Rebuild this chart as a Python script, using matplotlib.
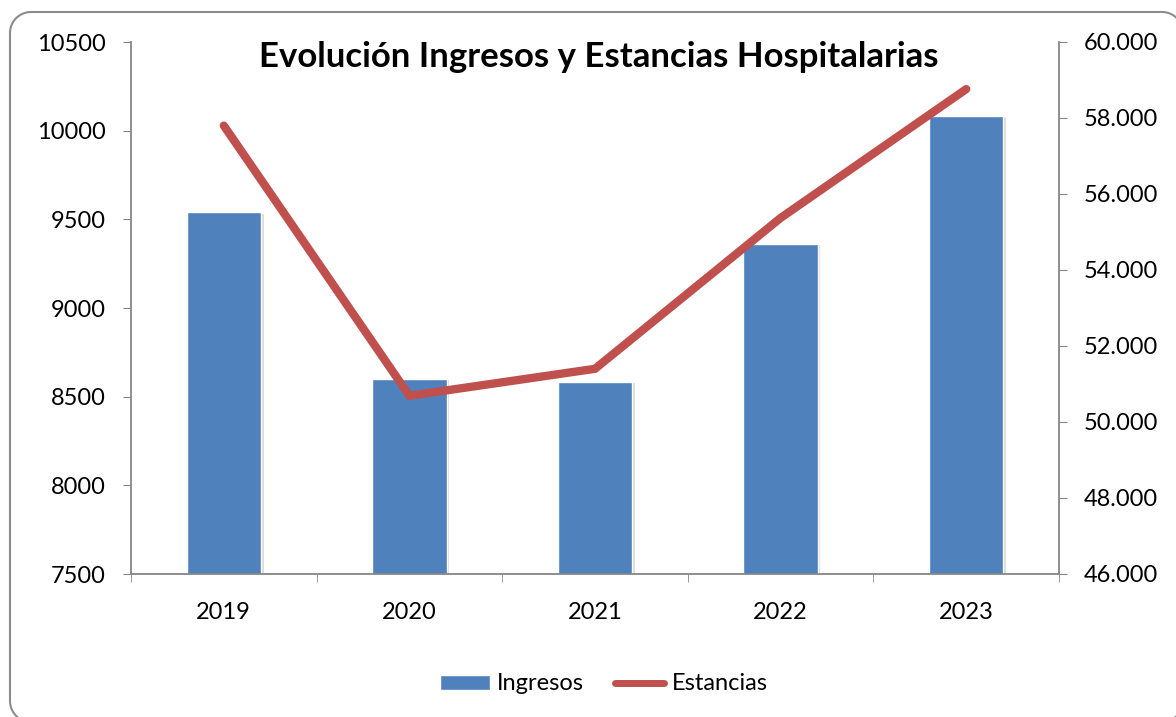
import matplotlib
matplotlib.use("Agg")
import numpy as np
import matplotlib.pyplot as plt
from matplotlib.patches import Patch, PathPatch
from matplotlib.path import Path
from matplotlib.lines import Line2D
from matplotlib.ticker import FuncFormatter, FixedLocator
import matplotlib.patheffects as pe

years = ["2019", "2020", "2021", "2022", "2023"]
ingresos = [9540, 8600, 8583, 9361, 10083]
estancias = [57800, 50690, 51400, 55370, 58760]
left_ticks = [7500, 8000, 8500, 9000, 9500, 10000, 10500]
right_ticks = [46000, 48000, 50000, 52000, 54000, 56000, 58000, 60000]

plt.rcParams['font.family'] = ['Lato', 'DejaVu Sans']

W, H = 1176, 717
fig = plt.figure(figsize=(W / 100, H / 100), dpi=100)

# rounded frame, built in pixel units (y down) then converted to figure fraction
def rounded_frame(x0, y0, x1, y1, r, n=20):
    pts = []
    corners = [((x1 - r, y0 + r), -90, 0), ((x1 - r, y1 - r), 0, 90),
               ((x0 + r, y1 - r), 90, 180), ((x0 + r, y0 + r), 180, 270)]
    for (cx, cy), a0, a1 in corners:
        for t in np.linspace(np.radians(a0), np.radians(a1), n):
            pts.append((cx + r * np.cos(t), cy + r * np.sin(t)))
    pts.append(pts[0])
    return [(px / W, 1 - py / H) for px, py in pts]

fpts = rounded_frame(10, 12, 1183, 722, 21)
frame = PathPatch(Path(fpts), transform=fig.transFigure, fill=False,
                  edgecolor="#8c8c8c", linewidth=1.5)
fig.patches.append(frame)

ax_l, ax_r, ax_t, ax_b = 131, 1059, 42, 574
ax = fig.add_axes([ax_l / W, 1 - ax_b / H, (ax_r - ax_l) / W, (ax_b - ax_t) / H])
ax2 = ax.twinx()

x = list(range(len(years)))
bars = ax.bar(x, ingresos, width=0.4, color="#4F81BD", edgecolor="white",
              linewidth=1.0, zorder=2)
for b in bars:
    b.set_path_effects([pe.SimplePatchShadow(offset=(2, -1), shadow_rgbFace="#bbbbbb", alpha=0.5),
                        pe.Normal()])

ax.set_xlim(-0.5, len(years) - 0.5)
ax.set_ylim(7500, 10500)
ax.yaxis.set_major_locator(FixedLocator(left_ticks))
ax.set_xticks(x)
ax.set_xticklabels(years)
ax.set_xticks([i - 0.5 for i in range(len(years) + 1)], minor=True)
ax.tick_params(axis='x', which='major', length=0, pad=20, labelsize=17)
ax.tick_params(axis='x', which='minor', length=6, color="#868686", direction='out')
ax.tick_params(axis='y', length=6, color="#868686", labelsize=17, pad=12)

ax2.plot(x, estancias, color="#C0504D", linewidth=6, solid_capstyle='round',
         solid_joinstyle='miter', zorder=3)
ax2.set_ylim(46000, 60000)
ax2.yaxis.set_major_locator(FixedLocator(right_ticks))
ax2.yaxis.set_major_formatter(FuncFormatter(lambda v, p: f"{int(v):,}".replace(",", ".")))
ax2.tick_params(axis='y', length=6, color="#868686", labelsize=17, pad=12)

for a in (ax, ax2):
    a.spines['top'].set_visible(False)
    for s in ('left', 'right', 'bottom'):
        a.spines[s].set_color("#868686")
        a.spines[s].set_linewidth(1.3)
ax.spines['right'].set_visible(False)
ax2.spines['left'].set_visible(False)
ax2.spines['bottom'].set_visible(False)

ax.set_zorder(1)
ax2.set_zorder(2)
ax2.patch.set_visible(False)

fig.text(599 / W, 1 - 57 / H, "Evolución Ingresos y Estancias Hospitalarias",
         ha='center', va='center', fontsize=25, fontweight='bold')

handles = [Patch(facecolor="#4F81BD", edgecolor="white"),
           Line2D([0], [0], color="#C0504D", linewidth=5, solid_capstyle='round')]
fig.legend(handles, ["Ingresos", "Estancias"], loc='center',
           bbox_to_anchor=(604 / W, 1 - 684 / H), ncol=2, frameon=False,
           fontsize=17, handlelength=2.1, handleheight=0.6, columnspacing=1.3,
           handletextpad=0.3)

fig.savefig("out.png", dpi=100)
